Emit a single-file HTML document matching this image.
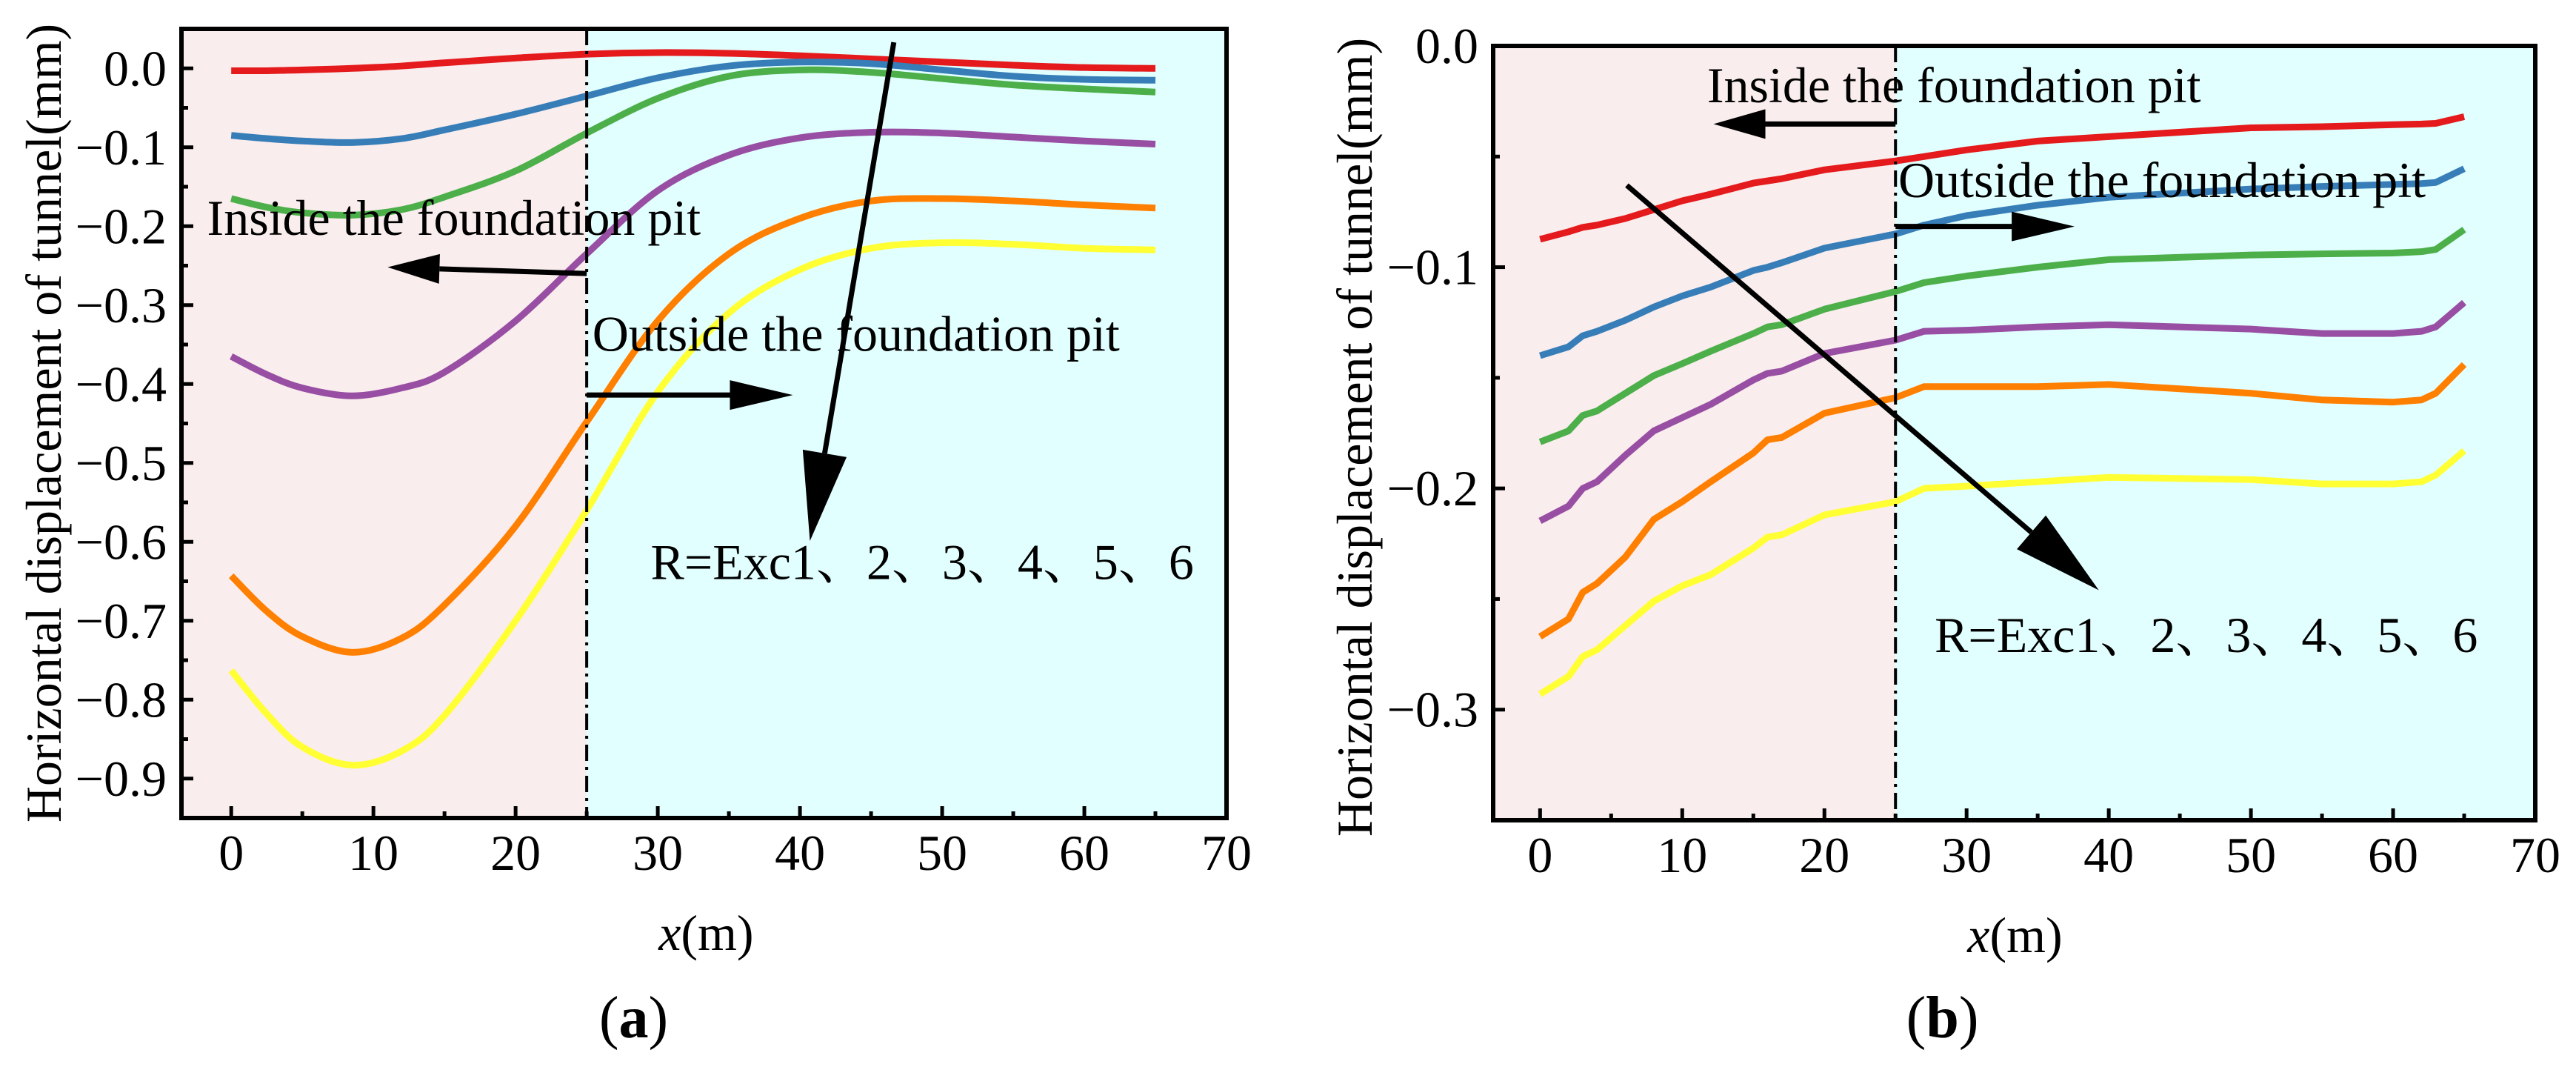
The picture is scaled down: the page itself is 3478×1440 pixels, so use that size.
<!DOCTYPE html>
<html><head><meta charset="utf-8">
<style>
html,body{margin:0;padding:0;background:#fff;}
svg{display:block;}
text{font-family:"Liberation Serif","Noto Serif CJK SC",serif;fill:#000;}
</style></head>
<body>
<svg id="fig" width="3478" height="1440" viewBox="0 0 3478 1440" xmlns="http://www.w3.org/2000/svg"></svg>
<script>
// ---------- Panel (a) data ----------
const aX = [0, 2.5, 5, 8.5, 12, 15, 20, 25, 30, 35, 40, 45, 50, 55, 60, 65];
const aExc1 = [-0.003, -0.003, -0.002, 0.0, 0.003, 0.007, 0.013, 0.018, 0.020, 0.019, 0.016, 0.012, 0.008, 0.004, 0.001, 0.0];
const aExc2 = [-0.085, -0.089, -0.092, -0.094, -0.089, -0.078, -0.058, -0.035, -0.012, 0.003, 0.008, 0.006, -0.002, -0.010, -0.014, -0.015];
const aExc3 = [-0.165, -0.176, -0.183, -0.186, -0.179, -0.163, -0.130, -0.082, -0.038, -0.010, -0.002, -0.005, -0.013, -0.021, -0.026, -0.030];
const aExc4 = [-0.365, -0.388, -0.405, -0.415, -0.405, -0.385, -0.320, -0.235, -0.155, -0.110, -0.088, -0.081, -0.082, -0.087, -0.092, -0.096];
const aExc5 = [-0.643, -0.688, -0.720, -0.740, -0.722, -0.680, -0.580, -0.448, -0.320, -0.235, -0.190, -0.168, -0.165, -0.168, -0.173, -0.177];
const aExc6 = [-0.763, -0.818, -0.860, -0.883, -0.865, -0.820, -0.700, -0.560, -0.410, -0.310, -0.255, -0.228, -0.221, -0.223, -0.228, -0.230];
const aYTicks = [0.0, -0.1, -0.2, -0.3, -0.4, -0.5, -0.6, -0.7, -0.8, -0.9];
const aYTickLabels = ["0.0", "\u22120.1", "\u22120.2", "\u22120.3", "\u22120.4", "\u22120.5", "\u22120.6", "\u22120.7", "\u22120.8", "\u22120.9"];
// ---------- Panel (b) data ----------
const bX = [0, 2, 3, 4, 6, 8, 10, 12, 15, 16, 17, 20, 25, 27, 30, 35, 40, 50, 55, 60, 62, 63, 65];
const bExc1 = [-0.0874, -0.084, -0.082, -0.081, -0.078, -0.074, -0.070, -0.067, -0.062, -0.061, -0.060, -0.056, -0.052, -0.050, -0.047, -0.043, -0.041, -0.037, -0.0365, -0.0356, -0.0353, -0.035, -0.032];
const bExc2 = [-0.140, -0.136, -0.131, -0.129, -0.124, -0.118, -0.113, -0.109, -0.1015, -0.100, -0.098, -0.0914, -0.085, -0.081, -0.0767, -0.072, -0.0684, -0.0647, -0.0635, -0.0626, -0.0622, -0.0617, -0.0555];
const bExc3 = [-0.179, -0.174, -0.167, -0.165, -0.157, -0.149, -0.1436, -0.138, -0.130, -0.127, -0.126, -0.119, -0.111, -0.107, -0.104, -0.100, -0.0966, -0.0945, -0.094, -0.0936, -0.093, -0.092, -0.083];
const bExc4 = [-0.2147, -0.208, -0.200, -0.197, -0.185, -0.174, -0.168, -0.162, -0.151, -0.148, -0.147, -0.139, -0.133, -0.129, -0.1285, -0.127, -0.126, -0.128, -0.130, -0.130, -0.129, -0.127, -0.116];
const bExc5 = [-0.267, -0.259, -0.247, -0.243, -0.231, -0.214, -0.206, -0.197, -0.184, -0.178, -0.177, -0.166, -0.159, -0.154, -0.154, -0.154, -0.153, -0.157, -0.160, -0.161, -0.160, -0.157, -0.144];
const bExc6 = [-0.293, -0.285, -0.276, -0.273, -0.262, -0.251, -0.244, -0.239, -0.227, -0.222, -0.221, -0.212, -0.206, -0.200, -0.199, -0.197, -0.195, -0.196, -0.198, -0.198, -0.197, -0.194, -0.183];
const bYTicks = [0.0, -0.1, -0.2, -0.3];
const bYTickLabels = ["0.0", "\u22120.1", "\u22120.2", "\u22120.3"];
// shared
const xTicks = [0, 10, 20, 30, 40, 50, 60, 70];
const xTickLabels = ["0", "10", "20", "30", "40", "50", "60", "70"];
const seriesColors = ["#e41a1c", "#377eb8", "#4daf4a", "#984ea3", "#ff7f00", "#ffff33"];
const seriesNames = ["exc1", "exc2", "exc3", "exc4", "exc5", "exc6"];

const NS = "http://www.w3.org/2000/svg";
const svg = document.getElementById("fig");
function mk(tag, attrs, parent) {
  const e = document.createElementNS(NS, tag);
  for (const k in attrs) e.setAttribute(k, attrs[k]);
  (parent || svg).appendChild(e);
  return e;
}
function txt(parent, s, x, y, size, anchor) {
  const t = mk("text", {"font-size": size, "text-anchor": anchor || "start", x: x, y: y}, parent);
  t.textContent = s;
  return t;
}
function smoothPath(pts) {
  let d = "M" + pts[0][0] + "," + pts[0][1];
  for (let i = 0; i < pts.length - 1; i++) {
    const p0 = pts[i - 1] || pts[i], p1 = pts[i], p2 = pts[i + 1], p3 = pts[i + 2] || p2;
    const c1 = [p1[0] + (p2[0] - p0[0]) / 6, p1[1] + (p2[1] - p0[1]) / 6];
    const c2 = [p2[0] - (p3[0] - p1[0]) / 6, p2[1] - (p3[1] - p1[1]) / 6];
    d += " C" + c1[0] + "," + c1[1] + " " + c2[0] + "," + c2[1] + " " + p2[0] + "," + p2[1];
  }
  return d;
}
function arrow(g, sx, sy, ex, ey, hl, hw, name) {
  const dx = ex - sx, dy = ey - sy, L = Math.hypot(dx, dy), ux = dx / L, uy = dy / L;
  const bx = ex - ux * hl, by = ey - uy * hl;
  const a = mk("g", {}, g);
  
  
  mk("line", {x1: sx, y1: sy, x2: bx, y2: by, stroke: "#000", "stroke-width": 7}, a);
  mk("polygon", {points: ex + "," + ey + " " + (bx - uy * hw) + "," + (by + ux * hw) + " " + (bx + uy * hw) + "," + (by - ux * hw), fill: "#000"}, a);
}

function panel(cfg) {
  const g = mk("g", {});
  
  
  const X = v => cfg.L + (v - cfg.xmin) / (cfg.xmax - cfg.xmin) * (cfg.R - cfg.L);
  const Y = v => cfg.T + (cfg.ymax - v) / (cfg.ymax - cfg.ymin) * (cfg.B - cfg.T);
  const bg1 = mk("rect", {x: cfg.L, y: cfg.T, width: X(25) - cfg.L, height: cfg.B - cfg.T, fill: "#f9eded"}, g);
  
  
  const bg2 = mk("rect", {x: X(25), y: cfg.T, width: cfg.R - X(25), height: cfg.B - cfg.T, fill: "#e2ffff"}, g);
  
  
  cfg.series.forEach((ys, i) => {
    const pts = cfg.xs.map((x, j) => [X(x), Y(ys[j])]);
    const d = cfg.smooth ? smoothPath(pts) : "M" + pts.map(p => p[0] + "," + p[1]).join(" L");
    const p = mk("path", {d: d, fill: "none", stroke: seriesColors[i], "stroke-width": 9, "stroke-linejoin": "round"}, g);
    
    
  });
  const dv = mk("line", {x1: X(25), y1: cfg.T, x2: X(25), y2: cfg.B, stroke: "#000", "stroke-width": 4, "stroke-dasharray": "22,8,4,8"}, g);
  
  
  const an = cfg.ann;
  const t1 = txt(g, "Inside the foundation pit", X(an.inT[0]), Y(an.inT[1]), 68, "start");
  
  
  arrow(g, X(25), Y(an.inA[1]), X(an.inA[0]), Y(an.inA[2]), 70, 20, 'inside-pit-arrow');
  const t2 = txt(g, "Outside the foundation pit", X(an.outT[0]), Y(an.outT[1]), 68, "start");
  
  
  arrow(g, X(25), Y(an.outA[1]), X(an.outA[0]), Y(an.outA[1]), 85, 20, 'outside-pit-arrow');
  arrow(g, X(an.big[0]), Y(an.big[1]), X(an.big[2]), Y(an.big[3]), 120, 30, 'trend-arrow');
  const t3 = txt(g, "R=Exc1\u30012\u30013\u30014\u30015\u30016", X(an.rT[0]), Y(an.rT[1]), 68, "start");
  
  
  const fr = mk("rect", {x: cfg.L, y: cfg.T, width: cfg.R - cfg.L, height: cfg.B - cfg.T, fill: "none", stroke: "#000", "stroke-width": 6}, g);
  
  
  xTicks.forEach((v, i) => {
    const x = X(v);
    if (v < 70) mk("line", {x1: x, y1: cfg.B, x2: x, y2: cfg.B - 16, stroke: "#000", "stroke-width": 5}, g);
    if (v + 5 < 70) mk("line", {x1: X(v + 5), y1: cfg.B, x2: X(v + 5), y2: cfg.B - 9, stroke: "#000", "stroke-width": 5}, g);
    const t = txt(g, xTickLabels[i], x, cfg.B + 70, 68, "middle");
    
    
  });
  cfg.yTicks.forEach((v, i) => {
    const y = Y(v);
    mk("line", {x1: cfg.L, y1: y, x2: cfg.L + 16, y2: y, stroke: "#000", "stroke-width": 5}, g);
    const ym = Y(v - 0.05);
    if (ym < cfg.B - 4) mk("line", {x1: cfg.L, y1: ym, x2: cfg.L + 9, y2: ym, stroke: "#000", "stroke-width": 5}, g);
    const t = txt(g, cfg.yLabels[i], cfg.L - 20, y + 23, 68, "end");
    
    
  });
  const xt = mk("text", {"font-size": 68, "text-anchor": "middle", x: X(33.4), y: cfg.B + 178}, g);
  
  
  const xi = mk("tspan", {"font-style": "italic"}, xt); xi.textContent = "x";
  const xm = mk("tspan", {}, xt); xm.textContent = "(m)";
  const yt = mk("text", {"font-size": 68, "text-anchor": "middle", transform: "translate(" + cfg.yTitleX + "," + cfg.yTitleY + ") rotate(-90)"}, g);
  
  
  yt.textContent = "Horizontal displacement of tunnel(mm)";
  const pl = mk("text", {"font-size": 80, "text-anchor": "middle", x: X(28.3), y: 1400}, g);
  
  
  mk("tspan", {}, pl).textContent = "(";
  mk("tspan", {"font-weight": "bold"}, pl).textContent = cfg.label;
  mk("tspan", {}, pl).textContent = ")";
}

panel({name: "panel-a", L: 245, R: 1656, T: 39, B: 1104, xmin: -3.5, xmax: 70, ymin: -0.95, ymax: 0.05,
  xs: aX, series: [aExc1, aExc2, aExc3, aExc4, aExc5, aExc6], smooth: true,
  yTicks: aYTicks, yLabels: aYTickLabels, yTitleX: 82, yTitleY: 571, label: "a",
  ann: {inT: [-1.7, -0.211], inA: [11, -0.26, -0.252], outT: [25.4, -0.358], outA: [39.5, -0.414],
        big: [46.6, 0.033, 40.7, -0.599], rT: [29.5, -0.647]}});

panel({name: "panel-b", L: 2016, R: 3423, T: 62, B: 1107, xmin: -3.3, xmax: 70, ymin: -0.35, ymax: 0.0,
  xs: bX, series: [bExc1, bExc2, bExc3, bExc4, bExc5, bExc6], smooth: false,
  yTicks: bYTicks, yLabels: bYTickLabels, yTitleX: 1852, yTitleY: 590, label: "b",
  ann: {inT: [11.75, -0.0255], inA: [12.2, -0.0353, -0.0353], outT: [25.2, -0.0684], outA: [37.6, -0.0816],
        big: [6.1, -0.063, 39.3, -0.246], rT: [27.75, -0.274]}});
</script>
</body></html>
